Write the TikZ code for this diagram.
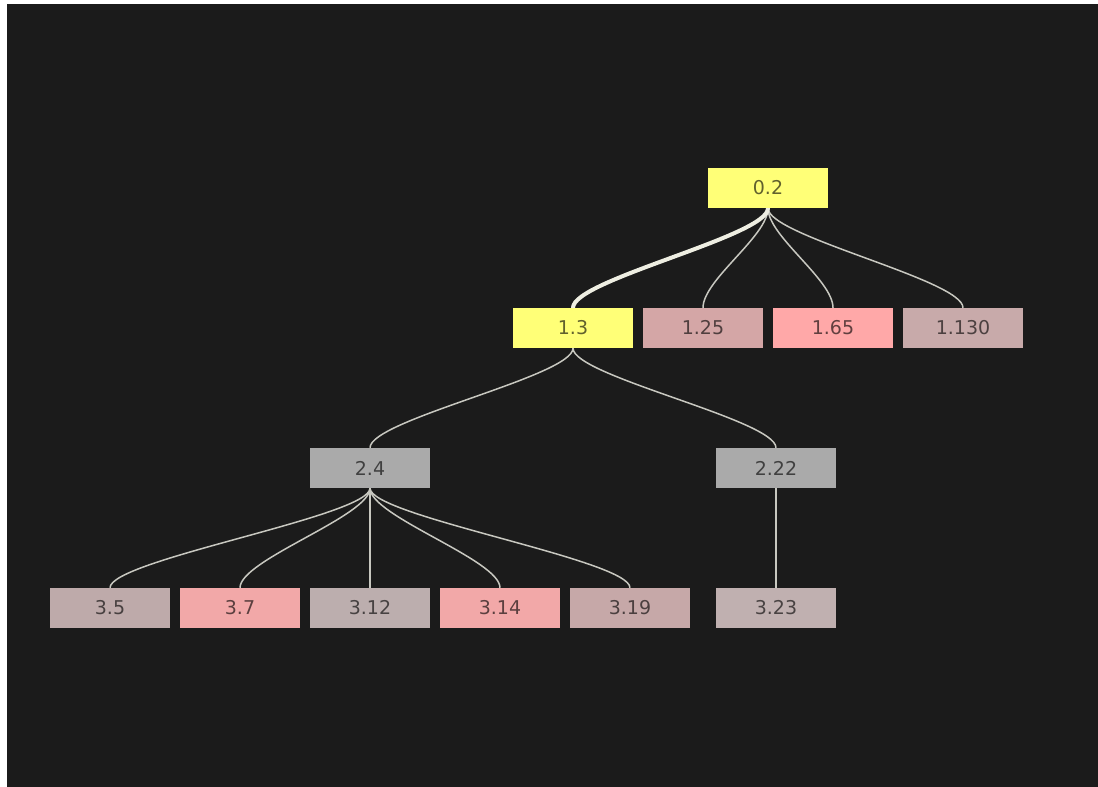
\documentclass[tikz,border=0pt]{standalone}
\usepackage{fontspec}
\setmainfont{DejaVu Sans}
\usetikzlibrary{backgrounds}
\pgfdeclarelayer{canvas}
\pgfsetlayers{canvas,background,main}

\definecolor{bgdark}{HTML}{1B1B1B}
\definecolor{hiyellow}{HTML}{FFFF77}
\definecolor{midgrey}{HTML}{AAAAAA}
\definecolor{rose1}{HTML}{D4A6A6}
\definecolor{rose2}{HTML}{FFA8A8}
\definecolor{rose3}{HTML}{C8AAAA}
\definecolor{rose4}{HTML}{BEAAAA}
\definecolor{rose5}{HTML}{F2A8A8}
\definecolor{rose6}{HTML}{BCAEAE}
\definecolor{rose7}{HTML}{C6A8A8}
\definecolor{rose8}{HTML}{C0B0B0}
\definecolor{linkgrey}{HTML}{C8C8C0}
\definecolor{linkhi}{HTML}{EEEEE2}

\tikzset{
  treenode/.style={minimum width=120pt, minimum height=40pt, inner sep=0pt,
    font=\fontsize{19}{19}\selectfont, text=black, text opacity=0.62},
  link/.style={draw=linkgrey, line width=1.5pt},
  hilink/.style={draw=linkhi, line width=4pt, line cap=round},
}

\begin{document}
\begin{tikzpicture}[x=1pt, y=-1pt]
  \useasboundingbox (0,0) rectangle (1098,787);
  \begin{pgfonlayer}{canvas}
    \fill[white] (0,0) rectangle (1098,787);
    \fill[bgdark] (7,4) rectangle (1099,788);
  \end{pgfonlayer}

  % level 0
  \node[treenode, fill=hiyellow] (n02) at (768,188) {0.2};
  % level 1
  \node[treenode, fill=hiyellow] (n13) at (573,328) {1.3};
  \node[treenode, fill=rose1] (n125) at (703,328) {1.25};
  \node[treenode, fill=rose2] (n165) at (833,328) {1.65};
  \node[treenode, fill=rose3] (n1130) at (963,328) {1.130};
  % level 2
  \node[treenode, fill=midgrey] (n24) at (370,468) {2.4};
  \node[treenode, fill=midgrey] (n222) at (776,468) {2.22};
  % level 3
  \node[treenode, fill=rose4] (n35) at (110,608) {3.5};
  \node[treenode, fill=rose5] (n37) at (240,608) {3.7};
  \node[treenode, fill=rose6] (n312) at (370,608) {3.12};
  \node[treenode, fill=rose5] (n314) at (500,608) {3.14};
  \node[treenode, fill=rose7] (n319) at (630,608) {3.19};
  \node[treenode, fill=rose8] (n323) at (776,608) {3.23};

  \begin{pgfonlayer}{background}
    \foreach \p/\c in {n02/n125, n02/n165, n02/n1130,
                       n13/n24, n13/n222,
                       n24/n35, n24/n37, n24/n312, n24/n314, n24/n319,
                       n222/n323}
      \draw[link] (\p.south) .. controls +(0,28) and +(0,-28) .. (\c.north);
    \draw[hilink] (n02.south) .. controls +(0,28) and +(0,-28) .. (n13.north);
  \end{pgfonlayer}
\end{tikzpicture}
\end{document}
